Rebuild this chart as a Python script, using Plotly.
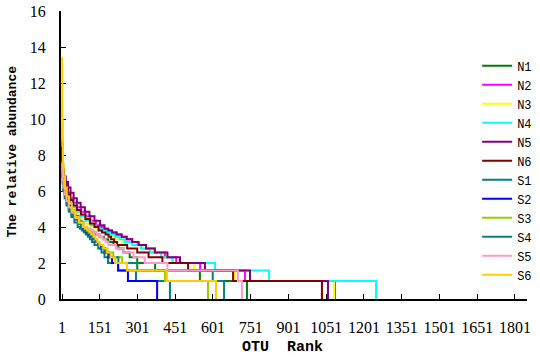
import plotly.graph_objects as go

# ---- data ----
series_names = ["N1", "N2", "N3", "N4", "N5", "N6", "S1", "S2", "S3", "S4", "S5", "S6"]

n1_rank = [1, 2, 3, 5, 8, 13, 20, 30, 42, 56, 72, 86, 98, 110, 122, 135, 150, 167, 185, 205, 225, 245, 270, 300, 371, 549, 736]
n1_val = [9.8, 8.4, 7.6, 7.0, 6.5, 6.0, 5.6, 5.2, 4.9, 4.6, 4.3, 4.0, 3.907, 3.807, 3.7, 3.585, 3.46, 3.32, 3.17, 3.0, 2.807, 2.585, 2.32, 2.0, 1.585, 1.0, 0]

n2_rank = [1, 3, 6, 10, 16, 24, 34, 46, 60, 76, 94, 114, 136, 150, 168, 184, 200, 218, 238, 258, 280, 305, 335, 370, 410, 455, 550, 728, 1086]
n2_val = [7.6, 7.2, 6.8, 6.5, 6.2, 5.9, 5.6, 5.35, 5.1, 4.85, 4.6, 4.35, 4.1, 4.0, 3.907, 3.807, 3.7, 3.585, 3.46, 3.32, 3.17, 3.0, 2.807, 2.585, 2.32, 2.0, 1.585, 1.0, 0]

n3_rank = [1, 2, 3, 5, 8, 12, 18, 26, 36, 48, 62, 78, 96, 116, 134, 150, 166, 182, 198, 215, 240, 280, 320, 360, 400, 440, 525, 689, 1082]
n3_val = [11.0, 9.0, 8.0, 7.2, 6.6, 6.2, 5.85, 5.5, 5.2, 4.9, 4.65, 4.4, 4.17, 4.0, 3.907, 3.807, 3.7, 3.585, 3.46, 3.32, 3.17, 3.0, 2.807, 2.585, 2.32, 2.0, 1.585, 1.0, 0]

n4_rank = [1, 2, 4, 7, 11, 17, 25, 35, 47, 61, 77, 95, 115, 135, 150, 165, 180, 196, 212, 230, 250, 280, 315, 350, 395, 440, 609, 824, 1249]
n4_val = [8.1, 7.5, 7.0, 6.6, 6.25, 5.95, 5.65, 5.35, 5.1, 4.85, 4.6, 4.35, 4.1, 4.0, 3.907, 3.807, 3.7, 3.585, 3.46, 3.32, 3.17, 3.0, 2.807, 2.585, 2.32, 2.0, 1.585, 1.0, 0]

n5_rank = [1, 4, 9, 16, 25, 35, 47, 60, 75, 92, 110, 130, 152, 170, 185, 200, 218, 238, 258, 280, 305, 335, 370, 420, 470, 569, 748, 1058]
n5_val = [7.9, 7.2, 6.8, 6.5, 6.2, 5.9, 5.6, 5.35, 5.1, 4.85, 4.6, 4.35, 4.1, 3.907, 3.807, 3.7, 3.585, 3.46, 3.32, 3.17, 3.0, 2.807, 2.585, 2.32, 2.0, 1.585, 1.0, 0]

n6_rank = [1, 3, 6, 10, 16, 24, 34, 46, 60, 76, 94, 112, 130, 146, 160, 174, 186, 196, 208, 220, 260, 300, 345, 400, 502, 681, 1034]
n6_val = [7.8, 7.2, 6.8, 6.4, 6.1, 5.8, 5.5, 5.2, 4.95, 4.7, 4.45, 4.2, 4.0, 3.807, 3.7, 3.585, 3.46, 3.32, 3.17, 3.0, 2.807, 2.585, 2.32, 2.0, 1.585, 1.0, 0]

s1_rank = [1, 2, 4, 7, 12, 19, 28, 38, 50, 63, 72, 80, 88, 96, 104, 112, 120, 130, 145, 158, 170, 184, 224, 295, 430]
s1_val = [7.6, 7.0, 6.5, 6.0, 5.6, 5.2, 4.85, 4.55, 4.25, 4.0, 3.907, 3.807, 3.7, 3.585, 3.46, 3.32, 3.17, 3.0, 2.807, 2.585, 2.32, 2.0, 1.585, 1.0, 0]

s2_rank = [1, 2, 4, 7, 12, 20, 30, 40, 52, 66, 78, 85, 91, 98, 106, 115, 125, 135, 145, 155, 170, 185, 200, 224, 263, 379]
s2_val = [8.7, 7.8, 7.0, 6.4, 5.9, 5.5, 5.2, 4.9, 4.6, 4.3, 4.0, 3.907, 3.807, 3.7, 3.585, 3.46, 3.32, 3.17, 3.0, 2.807, 2.585, 2.32, 2.0, 1.585, 1.0, 0]

s3_rank = [1, 2, 4, 7, 12, 19, 28, 39, 52, 66, 80, 88, 96, 104, 112, 120, 130, 140, 150, 165, 182, 205, 240, 300, 410, 581]
s3_val = [7.6, 7.1, 6.6, 6.2, 5.8, 5.4, 5.05, 4.75, 4.45, 4.2, 4.0, 3.907, 3.807, 3.7, 3.585, 3.46, 3.32, 3.17, 3.0, 2.807, 2.585, 2.32, 2.0, 1.585, 1.0, 0]

s4_rank = [1, 2, 4, 7, 12, 19, 28, 39, 52, 66, 78, 86, 94, 102, 110, 118, 126, 135, 145, 158, 172, 190, 225, 300, 600, 645]
s4_val = [7.2, 6.8, 6.4, 6.0, 5.6, 5.25, 4.95, 4.65, 4.4, 4.15, 4.0, 3.907, 3.807, 3.7, 3.585, 3.46, 3.32, 3.17, 3.0, 2.807, 2.585, 2.32, 2.0, 1.585, 1.0, 0]

s5_rank = [1, 2, 4, 7, 12, 19, 28, 40, 54, 70, 86, 100, 114, 126, 138, 150, 162, 174, 185, 215, 245, 285, 330, 420, 700, 716]
s5_val = [7.5, 7.0, 6.6, 6.2, 5.8, 5.45, 5.1, 4.8, 4.5, 4.25, 4.0, 3.907, 3.807, 3.7, 3.585, 3.46, 3.32, 3.17, 3.0, 2.807, 2.585, 2.32, 2.0, 1.585, 1.0, 0]

s6_rank = [1, 2, 3, 5, 8, 13, 20, 29, 40, 53, 68, 84, 93, 102, 110, 118, 126, 134, 142, 150, 165, 180, 195, 212, 259, 418, 613]
s6_val = [13.4, 10.0, 8.5, 7.5, 6.8, 6.2, 5.7, 5.3, 4.9, 4.55, 4.25, 4.0, 3.907, 3.807, 3.7, 3.585, 3.46, 3.32, 3.17, 3.0, 2.807, 2.585, 2.32, 2.0, 1.585, 1.0, 0]

x_tick_vals = [1, 151, 301, 451, 601, 751, 901, 1051, 1201, 1351, 1501, 1651, 1801]
y_tick_vals = [0, 2, 4, 6, 8, 10, 12, 14, 16]

# ---- styles ----
colors = ["#008000", "#FF00FF", "#FFFF00", "#00FFFF", "#800080", "#800000",
          "#008080", "#0000FF", "#99CC00", "#0E7F7F", "#FF99CC", "#FFCC00"]

all_ranks = [n1_rank, n2_rank, n3_rank, n4_rank, n5_rank, n6_rank,
             s1_rank, s2_rank, s3_rank, s4_rank, s5_rank, s6_rank]
all_vals = [n1_val, n2_val, n3_val, n4_val, n5_val, n6_val,
            s1_val, s2_val, s3_val, s4_val, s5_val, s6_val]

fig = go.Figure()
for name, xr, yv, c in zip(series_names, all_ranks, all_vals, colors):
    fig.add_trace(go.Scatter(x=xr, y=yv, mode="lines", name=name,
                             line=dict(color=c, width=2, shape="hv")))

serif = "Liberation Serif"
mono = "Liberation Mono"

fig.update_layout(
    width=540, height=360,
    margin=dict(l=61, r=13, t=11, b=61, autoexpand=False),
    paper_bgcolor="white", plot_bgcolor="white",
    showlegend=True,
    legend=dict(x=0.893, xanchor="left", y=0.86, yanchor="top",
                font=dict(family=mono, size=12, color="black"),
                bgcolor="rgba(0,0,0,0)", tracegroupgap=0),
    xaxis=dict(range=[-3, 1849], tickmode="array", tickvals=x_tick_vals,
               ticktext=[str(v) for v in x_tick_vals], automargin=False,
               ticks="inside", ticklen=5, tickcolor="black", tickwidth=1,
               showline=True, linecolor="black", linewidth=2,
               showgrid=False, zeroline=False, layer="below traces",
               tickfont=dict(family=serif, size=16, color="black"),
               ticklabelstandoff=13),
    yaxis=dict(range=[0, 16], tickmode="array", tickvals=y_tick_vals,
               automargin=False,
               ticks="inside", ticklen=5, tickcolor="black", tickwidth=1,
               showline=True, linecolor="black", linewidth=2,
               showgrid=False, zeroline=False, layer="below traces",
               tickfont=dict(family=serif, size=16, color="black"),
               ticklabelstandoff=10),
    annotations=[
        dict(text="<b>OTU  Rank</b>", xref="paper", yref="paper",
             x=0.476, y=-0.17, xanchor="center", yanchor="middle",
             showarrow=False, font=dict(family=mono, size=15, color="black")),
        dict(text="<b>The relative abundance</b>", xref="paper", yref="paper",
             x=-0.105, y=0.512, xanchor="center", yanchor="middle", textangle=-90,
             showarrow=False, font=dict(family=mono, size=13, color="black")),
    ],
)

fig.write_html("out.html", config={"displayModeBar": False},
               post_script="document.body.style.margin='0';document.body.style.padding='0';")
